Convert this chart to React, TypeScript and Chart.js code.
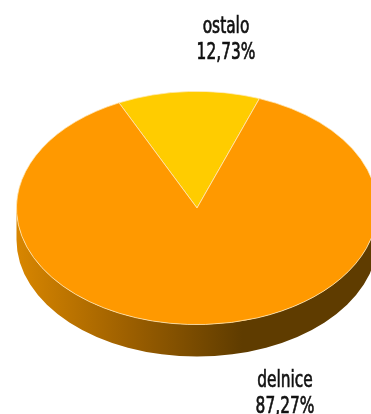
import React, { useEffect, useRef } from "react";
import { Chart, registerables } from "chart.js";

Chart.register(...registerables);

const categories = ["ostalo", "delnice"];
const values = [12.73, 87.27];
const valueLabels = ["12,73%", "87,27%"];
const colors = ["#FFCC00", "#FF9900"];

const FLATTEN = 0.646;
const DEPTH = 32;

const pie3dPlugin = {
  id: "pie3d",
  beforeDatasetsDraw(chart: any) {
    const meta = chart.getDatasetMeta(0);
    const arc = meta.data[0];
    if (!arc) return;
    const cx = arc.x, cy = arc.y, r = arc.outerRadius;
    const ry = r * FLATTEN;
    const ctx = chart.ctx;
    ctx.save();
    const g = ctx.createLinearGradient(cx - r, 0, cx + r * 0.25, 0);
    g.addColorStop(0, "#d88600");
    g.addColorStop(0.5, "#9c5f00");
    g.addColorStop(1, "#5f3c00");
    ctx.beginPath();
    ctx.ellipse(cx, cy, r, ry, 0, 0, Math.PI, false);
    ctx.lineTo(cx - r, cy + DEPTH);
    ctx.ellipse(cx, cy + DEPTH, r, ry, 0, Math.PI, 0, true);
    ctx.closePath();
    ctx.fillStyle = g;
    ctx.fill();
    ctx.restore();
    ctx.save();
    ctx.translate(cx, cy);
    ctx.scale(1, FLATTEN);
    ctx.translate(-cx, -cy);
  },
  afterDatasetsDraw(chart: any) {
    const ctx = chart.ctx;
    ctx.restore();
    const meta = chart.getDatasetMeta(0);
    const arc = meta.data[0];
    if (!arc) return;
    const cx = arc.x, cy = arc.y;
    const pos = [
      { x: cx + 29, y: cy - 175 },
      { x: cx + 88, y: cy + 179 },
    ];
    ctx.save();
    ctx.fillStyle = "#111111";
    ctx.strokeStyle = "#111111";
    ctx.lineWidth = 0.7;
    ctx.font = '23px "DejaVu Sans"';
    ctx.textAlign = "center";
    ctx.textBaseline = "alphabetic";
    categories.forEach((c, i) => {
      const p = pos[i];
      ctx.save();
      ctx.translate(p.x, p.y);
      ctx.scale(0.67, 1);
      ctx.fillText(c, 0, 0);
      ctx.strokeText(c, 0, 0);
      ctx.fillText(valueLabels[i], 0, 26);
      ctx.strokeText(valueLabels[i], 0, 26);
      ctx.restore();
    });
    ctx.restore();
  },
};

export default function App() {
  const ref = useRef<HTMLCanvasElement>(null);
  useEffect(() => {
    if (!ref.current) return;
    const chart = new Chart(ref.current, {
      type: "pie",
      data: {
        labels: categories,
        datasets: [
          {
            data: values,
            backgroundColor: colors,
            borderColor: "rgba(255,235,190,0.9)",
            borderWidth: 1,
            clip: false as any,
          },
        ],
      },
      options: {
        responsive: false,
        animation: false,
        rotation: -25.6,
        layout: { padding: { left: 16, right: 22, top: 27, bottom: 25 } },
        plugins: {
          legend: { display: false },
          tooltip: { enabled: false },
        },
      },
      plugins: [pie3dPlugin],
    });
    return () => chart.destroy();
  }, []);
  return (
    <div
      style={{
        position: "fixed",
        left: 0,
        top: 0,
        width: 371,
        height: 414,
        overflow: "hidden",
        background: "#ffffff",
      }}
    >
      <canvas ref={ref} width={400} height={414} style={{ display: "block" }} />
    </div>
  );
}
